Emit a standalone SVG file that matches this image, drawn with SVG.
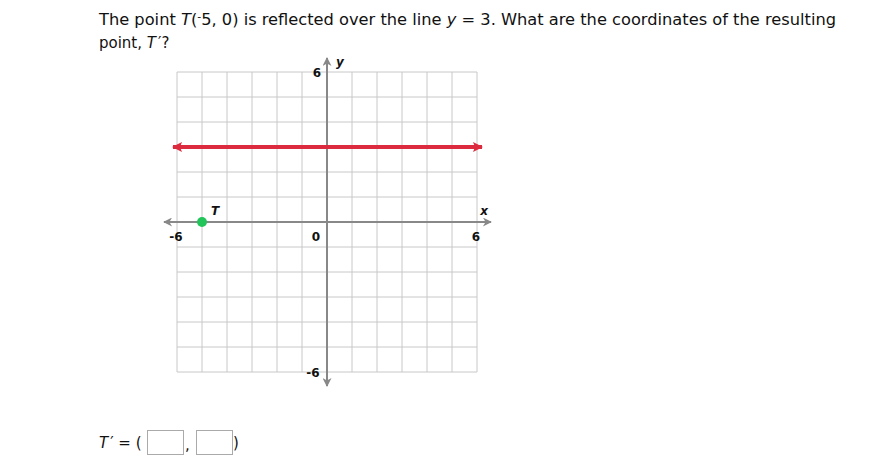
<svg xmlns="http://www.w3.org/2000/svg" width="888" height="464" viewBox="0 0 888 464">
<style>
.q{font-family:"DejaVu Sans",Verdana,sans-serif;font-size:15px;fill:#111}
.grid line{stroke:#c8c8c8;stroke-width:1}
.ax{stroke:#888;stroke-width:2}
.lab{font-family:"DejaVu Sans",Verdana,sans-serif;font-size:12px;font-weight:bold;fill:#111}
.box{fill:#fff;stroke:#aaa;stroke-width:1}
</style>
<defs>
<marker id="ga" viewBox="0 0 10 10" refX="9" refY="5" markerWidth="10" markerHeight="9" orient="auto-start-reverse" markerUnits="userSpaceOnUse">
<path d="M0,0 L10,5 L0,10 L3,5 Z" fill="#888"/>
</marker>
<marker id="ra" viewBox="0 0 10 10" refX="9" refY="5" markerWidth="11" markerHeight="10" orient="auto-start-reverse" markerUnits="userSpaceOnUse">
<path d="M0,0 L10,5 L0,10 L2,5 Z" fill="#dc2a3e"/>
</marker>
</defs>
<text class="q" x="99" y="25" textLength="737" lengthAdjust="spacingAndGlyphs">The point <tspan font-style="italic">T</tspan>(<tspan font-size="10" dy="-5">-</tspan><tspan dy="5">5, 0) is reflected over the line </tspan><tspan font-style="italic">y</tspan> = 3. What are the coordinates of the resulting</text>
<text class="q" x="99" y="48">point, <tspan font-style="italic">T</tspan><tspan dx="2">′</tspan>?</text>
<g id="grid" class="grid">
<line x1="177" y1="72" x2="177" y2="372"/><line x1="202" y1="72" x2="202" y2="372"/><line x1="227" y1="72" x2="227" y2="372"/><line x1="252" y1="72" x2="252" y2="372"/><line x1="277" y1="72" x2="277" y2="372"/><line x1="302" y1="72" x2="302" y2="372"/><line x1="327" y1="72" x2="327" y2="372"/><line x1="352" y1="72" x2="352" y2="372"/><line x1="377" y1="72" x2="377" y2="372"/><line x1="402" y1="72" x2="402" y2="372"/><line x1="427" y1="72" x2="427" y2="372"/><line x1="452" y1="72" x2="452" y2="372"/><line x1="477" y1="72" x2="477" y2="372"/>
<line x1="177" y1="72" x2="477" y2="72"/><line x1="177" y1="97" x2="477" y2="97"/><line x1="177" y1="122" x2="477" y2="122"/><line x1="177" y1="147" x2="477" y2="147"/><line x1="177" y1="172" x2="477" y2="172"/><line x1="177" y1="197" x2="477" y2="197"/><line x1="177" y1="222" x2="477" y2="222"/><line x1="177" y1="247" x2="477" y2="247"/><line x1="177" y1="272" x2="477" y2="272"/><line x1="177" y1="297" x2="477" y2="297"/><line x1="177" y1="322" x2="477" y2="322"/><line x1="177" y1="347" x2="477" y2="347"/><line x1="177" y1="372" x2="477" y2="372"/>
</g>
<g id="connectors">
<line id="x-axis" class="ax" x1="164" y1="222" x2="491" y2="222" marker-start="url(#ga)" marker-end="url(#ga)"/>
<line id="y-axis" class="ax" x1="327" y1="58" x2="327" y2="386" marker-start="url(#ga)" marker-end="url(#ga)"/>
<line id="line-y3" x1="173" y1="147" x2="482" y2="147" stroke="#dc2a3e" stroke-width="4" marker-start="url(#ra)" marker-end="url(#ra)"/>
</g>
<g id="labels">
<text class="lab" x="317" y="77" text-anchor="middle">6</text>
<text class="lab" x="336" y="66" font-style="italic" font-size="13">y</text>
<text class="lab" x="176" y="241" text-anchor="middle">-6</text>
<text class="lab" x="316" y="241" text-anchor="middle">0</text>
<text class="lab" x="476" y="241" text-anchor="middle">6</text>
<text class="lab" x="484" y="215" text-anchor="middle" font-style="italic">x</text>
<text class="lab" x="313" y="377" text-anchor="middle">-6</text>
</g>
<g id="T">
<circle cx="202" cy="222" r="5" fill="#22c55a"/>
<text class="lab" x="215" y="215" text-anchor="middle" font-style="italic" font-size="14">T</text>
</g>
<g id="answer">
<text class="q" x="99" y="448"><tspan font-style="italic">T</tspan><tspan dx="2">′</tspan> = (</text>
<rect class="box" x="147.5" y="430.5" width="36" height="24"/>
<text class="q" x="185" y="450">,</text>
<rect class="box" x="196.5" y="430.5" width="36" height="24"/>
<text class="q" x="233" y="448">)</text>
</g>
</svg>
